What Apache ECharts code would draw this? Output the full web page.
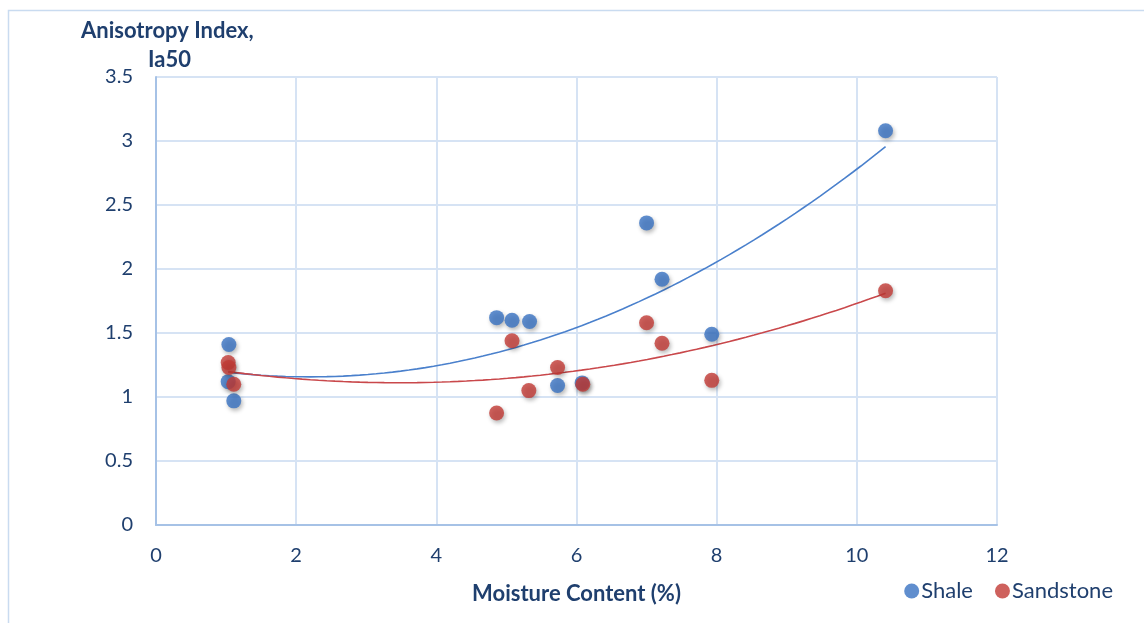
<!DOCTYPE html>
<html>
<head>
<meta charset="utf-8">
<script src="https://cdn.jsdelivr.net/npm/echarts@6/dist/echarts.min.js"></script>
<style>html,body{margin:0;padding:0;background:#fff;}#chart{width:1144px;height:623px;}</style>
</head>
<body>
<div id="chart"></div>
<script>
const shaleX = [1.04, 1.03, 1.11, 4.86, 5.08, 5.33, 5.73, 6.08, 7.00, 7.22, 7.93, 10.41];
const shaleY = [1.41, 1.12, 0.97, 1.62, 1.60, 1.59, 1.09, 1.11, 2.36, 1.92, 1.49, 3.08];
const sandX = [1.03, 1.04, 1.11, 4.86, 5.08, 5.32, 5.73, 6.09, 7.00, 7.22, 7.93, 10.41];
const sandY = [1.27, 1.23, 1.10, 0.875, 1.44, 1.05, 1.23, 1.10, 1.58, 1.42, 1.13, 1.83];
const xTicks = [0, 2, 4, 6, 8, 10, 12];
const yTicks = [0, 0.5, 1, 1.5, 2, 2.5, 3, 3.5];

function quadFit(xs, ys) {
  let s = [0,0,0,0,0], t = [0,0,0];
  for (let i = 0; i < xs.length; i++) {
    let p = 1;
    for (let k = 0; k < 5; k++) { s[k] += p; p *= xs[i]; }
    t[0] += ys[i]; t[1] += ys[i]*xs[i]; t[2] += ys[i]*xs[i]*xs[i];
  }
  const M = [[s[0],s[1],s[2],t[0]],[s[1],s[2],s[3],t[1]],[s[2],s[3],s[4],t[2]]];
  for (let i = 0; i < 3; i++) {
    for (let j = i+1; j < 3; j++) {
      const f = M[j][i]/M[i][i];
      for (let k = i; k < 4; k++) M[j][k] -= f*M[i][k];
    }
  }
  const c = [0,0,0];
  for (let i = 2; i >= 0; i--) {
    let v = M[i][3];
    for (let k = i+1; k < 3; k++) v -= M[i][k]*c[k];
    c[i] = v/M[i][i];
  }
  return c;
}
function trend(xs, ys) {
  const c = quadFit(xs, ys);
  const lo = Math.min(...xs), hi = Math.max(...xs);
  const out = [];
  const n = 80;
  for (let i = 0; i <= n; i++) {
    const x = lo + (hi-lo)*i/n;
    out.push([x, c[0] + c[1]*x + c[2]*x*x]);
  }
  return out;
}
const zip = (a, b) => a.map((v, i) => [v, b[i]]);

const textColor = '#1f3f6e';
const gridColor = '#d6e3f4';
const font = 'Lato, "Open Sans", sans-serif';
const blue = '#3872c2';
const red = '#c23a35';

const chart = echarts.init(document.getElementById('chart'));
chart.setOption({
  animation: false,
  backgroundColor: '#fff',
  textStyle: { fontFamily: font },
  graphic: [
    { type: 'rect', shape: { x: 8.5, y: 10.5, width: 1140, height: 620 }, style: { fill: 'none', stroke: '#c9dbf0', lineWidth: 1.5 } },
    { type: 'text', left: 81, top: 20, style: { text: 'Anisotropy Index,', fontSize: 22, fontWeight: 'bold', fontFamily: font, fill: textColor } },
    { type: 'text', left: 148, top: 49, style: { text: 'Ia50', fontSize: 22, fontWeight: 'bold', fontFamily: font, fill: textColor } }
  ],
  grid: { left: 156, right: 147, top: 77, bottom: 98 },
  legend: {
    right: 26, bottom: 16, itemGap: 22, itemWidth: 15, itemHeight: 15,
    icon: 'circle',
    textStyle: { color: textColor, fontSize: 22, fontFamily: font, padding: [0,0,0,-3] },
    data: ['Shale', 'Sandstone']
  },
  xAxis: {
    type: 'value', min: 0, max: 12, interval: 2,
    name: 'Moisture Content (%)', nameLocation: 'middle', nameGap: 58,
    nameTextStyle: { color: textColor, fontWeight: 'bold', fontSize: 22, fontFamily: font },
    axisLine: { show: true, lineStyle: { color: '#a6c2e6', width: 2 } },
    axisTick: { show: false },
    axisLabel: { color: textColor, fontSize: 20, margin: 21, fontFamily: font, formatter: v => xTicks.includes(v) ? String(v) : '' },
    splitLine: { show: true, lineStyle: { color: gridColor, width: 2 } }
  },
  yAxis: {
    type: 'value', min: 0, max: 3.5, interval: 0.5,
    axisLine: { show: true, lineStyle: { color: '#a6c2e6', width: 2 } },
    axisTick: { show: false },
    axisLabel: { color: textColor, fontSize: 20, margin: 23, fontFamily: font, formatter: v => yTicks.includes(v) ? String(v) : '' },
    splitLine: { show: true, lineStyle: { color: gridColor, width: 2 } }
  },
  series: [
    { name: 'ShaleTrend', type: 'line', data: trend(shaleX, shaleY), showSymbol: false, symbol: 'none', smooth: false,
      lineStyle: { color: '#4a80cc', width: 1.6 }, silent: true, z: 1 },
    { name: 'SandTrend', type: 'line', data: trend(sandX, sandY), showSymbol: false, symbol: 'none', smooth: false,
      lineStyle: { color: '#c9484b', width: 1.6 }, silent: true, z: 1 },
    { name: 'Shale', type: 'scatter', data: zip(shaleX, shaleY), symbolSize: 15, z: 3,
      itemStyle: { color: blue, shadowBlur: 4, shadowColor: 'rgba(0,0,0,0.35)', shadowOffsetX: 1.5, shadowOffsetY: 2.5 } },
    { name: 'Sandstone', type: 'scatter', data: zip(sandX, sandY), symbolSize: 15, z: 4,
      itemStyle: { color: red, shadowBlur: 4, shadowColor: 'rgba(0,0,0,0.35)', shadowOffsetX: 1.5, shadowOffsetY: 2.5 } }
  ]
});
</script>
</body>
</html>
